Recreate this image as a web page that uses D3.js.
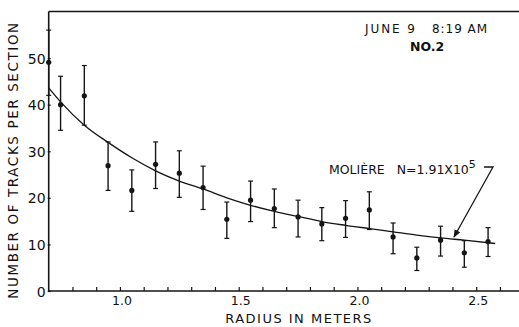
<!DOCTYPE html>
<html><head><meta charset="utf-8">
<script src="https://cdn.jsdelivr.net/npm/d3@7/dist/d3.min.js"></script>
<style>body{margin:0;background:#fff}svg{display:block}text{font-family:"DejaVu Sans",sans-serif;fill:#111}</style>
</head><body>
<script>
// Data
const radius   = [0.70,0.75,0.85,0.95,1.05,1.15,1.25,1.35,1.45,1.55,1.65,1.75,1.85,1.95,2.05,2.15,2.25,2.35,2.45,2.55];
const tracks   = [49.1,40.0,41.9,26.9,21.6,27.2,25.3,22.2,15.4,19.5,17.7,15.9,14.4,15.6,17.4,11.6,7.1,10.9,8.2,10.6];
const errHigh  = [56.0,46.1,48.4,32.0,26.0,32.0,30.1,26.8,19.1,23.6,21.9,19.5,17.9,19.4,21.3,14.6,9.4,13.9,10.8,13.6];
const errLow   = [42.0,34.5,35.6,21.6,17.1,22.0,20.1,17.5,11.3,14.9,13.6,11.6,10.8,11.5,13.2,8.0,4.4,7.5,5.1,7.4];
const curveX   = [0.70,0.75,0.85,0.95,1.05,1.15,1.25,1.35,1.45,1.55,1.65,1.75,1.85,1.95,2.05,2.15,2.25,2.35,2.45,2.58];
const curveY   = [43.6,40.6,35.6,31.9,28.6,25.8,23.6,21.9,20.0,18.4,17.1,16.0,14.9,14.1,13.4,12.7,12.0,11.4,10.9,10.2];
const xTickLabels = ["1.0","1.5","2.0","2.5"];
const xTickLabelValues = [1.0,1.5,2.0,2.5];
const xMinorTicks = [0.8,0.9,1.0,1.1,1.2,1.3,1.4,1.5,1.6,1.7,1.8,1.9,2.0,2.1,2.2,2.3,2.4,2.5,2.6];
const yTicks = [0,10,20,30,40,50];

const W=519,H=327;
const mLeft=48.7, mBottom=291, mTop=11.5;
const x=d3.scaleLinear().domain([0.7,2.5]).range([mLeft,mLeft+237.5*1.8]);
const y=d3.scaleLinear().domain([0,60]).range([mBottom,mTop]);

const svg=d3.select("body").append("svg").attr("width",W).attr("height",H);
const ink="#151515";

// frame lines
svg.append("line").attr("x1",mLeft).attr("x2",W).attr("y1",y(0)).attr("y2",y(0)).attr("stroke",ink).attr("stroke-width",1.6);
svg.append("line").attr("x1",mLeft).attr("x2",mLeft).attr("y1",y(0)).attr("y2",y(60)).attr("stroke",ink).attr("stroke-width",1.6);
svg.append("line").attr("x1",mLeft).attr("x2",W).attr("y1",y(60)).attr("y2",y(60)).attr("stroke",ink).attr("stroke-width",1.4);

// x axis ticks (inside) and labels
const xa=d3.axisTop(x).tickValues(xMinorTicks).tickSize(4).tickFormat("");
svg.append("g").attr("transform",`translate(0,${y(0)})`).call(xa)
  .call(g=>{g.select(".domain").remove();g.selectAll("line").attr("stroke",ink).attr("stroke-width",1.2);});
svg.append("g").selectAll("text").data(xTickLabelValues).join("text")
  .attr("x",d=>x(d)+2).attr("y",305).attr("text-anchor","middle").attr("font-size",12.5)
  .text((d,i)=>xTickLabels[i]);

// y axis
const ya=d3.axisLeft(y).tickValues(yTicks).tickSize(3).tickPadding(2).tickFormat(d3.format("d"));
svg.append("g").attr("transform",`translate(${mLeft+2},0)`).call(ya)
  .call(g=>{g.select(".domain").remove();g.selectAll("line").attr("stroke",ink).attr("stroke-width",1.2);
    g.selectAll("text").attr("font-size",14).attr("font-family","DejaVu Sans, sans-serif").attr("fill",ink).attr("dy","0.36em");});

// axis titles
svg.append("text").attr("x",299).attr("y",323).attr("text-anchor","middle").attr("font-size",13).attr("letter-spacing",1.5)
  .text("RADIUS IN METERS");
svg.append("text").attr("transform","translate(18,160) rotate(-90)").attr("text-anchor","middle").attr("font-size",13.5).attr("letter-spacing",1.6)
  .text("NUMBER OF TRACKS PER SECTION");

// theory curve
const line=d3.line().x(d=>x(d[0])).y(d=>y(d[1])).curve(d3.curveMonotoneX);
svg.append("path").datum(curveX.map((v,i)=>[v,curveY[i]])).attr("d",line)
  .attr("fill","none").attr("stroke",ink).attr("stroke-width",1.3);

// error bars & points
const pts=radius.map((r,i)=>({r,v:tracks[i],hi:errHigh[i],lo:errLow[i]}));
const g=svg.append("g");
g.selectAll("line.eb").data(pts).join("line").attr("class","eb")
  .attr("x1",d=>x(d.r)).attr("x2",d=>x(d.r)).attr("y1",d=>y(d.hi)).attr("y2",d=>y(d.lo)).attr("stroke",ink).attr("stroke-width",1.4);
g.selectAll("line.ct").data(pts).join("line").attr("class","ct")
  .attr("x1",d=>x(d.r)-2.5).attr("x2",d=>x(d.r)+2.5).attr("y1",d=>y(d.hi)).attr("y2",d=>y(d.hi)).attr("stroke",ink).attr("stroke-width",1.2);
g.selectAll("line.cb").data(pts).join("line").attr("class","cb")
  .attr("x1",d=>x(d.r)-2.5).attr("x2",d=>x(d.r)+2.5).attr("y1",d=>y(d.lo)).attr("y2",d=>y(d.lo)).attr("stroke",ink).attr("stroke-width",1.2);
g.selectAll("circle").data(pts).join("circle").attr("cx",d=>x(d.r)).attr("cy",d=>y(d.v)).attr("r",2.6).attr("fill",ink);

// annotations
svg.append("text").attr("x",365).attr("y",33).attr("font-size",12).attr("textLength",50).attr("lengthAdjust","spacing").text("JUNE 9");
svg.append("text").attr("x",432).attr("y",33).attr("font-size",12).attr("textLength",55).attr("lengthAdjust","spacing").text("8:19 AM");
svg.append("text").attr("x",410).attr("y",51).attr("font-size",12.5).attr("font-weight","bold").text("NO.2");
const mt=svg.append("text").attr("x",329).attr("y",174).attr("font-size",12.5).attr("xml:space","preserve");
mt.append("tspan").text("MOLIÈRE   N=1.91X10");
mt.append("tspan").attr("dy",-6).attr("font-size",11).text("5");
// arrow
svg.append("defs").append("marker").attr("id","ah").attr("viewBox","0 0 10 10").attr("refX",9).attr("refY",5)
  .attr("markerWidth",6).attr("markerHeight",6).attr("orient","auto")
  .append("path").attr("d","M0,1 L10,5 L0,9 z").attr("fill",ink);
svg.append("path").attr("d",`M484,167 L493,167 L454,237`).attr("fill","none").attr("stroke",ink).attr("stroke-width",1.3).attr("marker-end","url(#ah)");
</script>
</body></html>
